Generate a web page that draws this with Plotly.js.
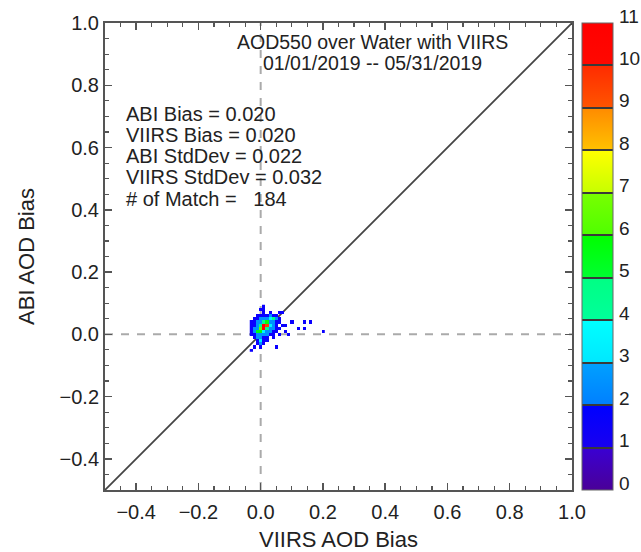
<!DOCTYPE html>
<html>
<head>
<meta charset="utf-8">
<script src="https://cdn.plot.ly/plotly-3.0.1.min.js"></script>
<style>html,body{margin:0;padding:0;background:#fff;}#chart{width:641px;height:552px;}</style>
</head>
<body>
<div id="chart"></div>
<script>
// Binned match counts (bin width 0.01): VIIRS AOD bias (x), ABI AOD bias (y), count
const cellX = [0.01,
  0.01,0.00,
  0.01,0.06,0.07,0.03,
  -0.01,0.00,0.01,0.02,0.03,0.04,0.05,
  -0.02,-0.01,0.00,0.01,0.02,0.03,0.04,0.05,0.06,
  -0.03,-0.02,-0.01,0.00,0.01,0.02,0.03,0.04,0.05,0.06,0.10,0.14,0.16,
  -0.03,-0.02,-0.01,0.00,0.01,0.02,0.03,0.04,0.05,0.07,0.08,
  -0.03,-0.02,-0.01,0.00,0.01,0.02,0.03,0.04,0.05,0.06,0.12,0.14,
  -0.03,-0.02,-0.01,0.00,0.01,0.02,0.03,0.04,0.05,0.08,0.20,
  -0.03,-0.02,-0.01,0.00,0.01,0.02,0.03,0.04,0.06,0.09,
  -0.02,-0.01,0.00,0.01,0.02,0.04,
  -0.01,0.00,0.01,0.02,
  -0.01,0.00,0.01,
  -0.02,0.00,0.05,
  -0.03];
const cellY = [0.09,
  0.08,0.08,
  0.07,0.07,0.07,0.07,
  0.06,0.06,0.06,0.06,0.06,0.06,0.06,
  0.05,0.05,0.05,0.05,0.05,0.05,0.05,0.05,0.05,
  0.04,0.04,0.04,0.04,0.04,0.04,0.04,0.04,0.04,0.04,0.04,0.04,0.04,
  0.03,0.03,0.03,0.03,0.03,0.03,0.03,0.03,0.03,0.03,0.03,
  0.02,0.02,0.02,0.02,0.02,0.02,0.02,0.02,0.02,0.02,0.02,0.02,
  0.01,0.01,0.01,0.01,0.01,0.01,0.01,0.01,0.01,0.01,0.01,
  0.00,0.00,0.00,0.00,0.00,0.00,0.00,0.00,0.00,0.00,
  -0.01,-0.01,-0.01,-0.01,-0.01,-0.01,
  -0.02,-0.02,-0.02,-0.02,
  -0.03,-0.03,-0.03,
  -0.04,-0.04,-0.04,
  -0.05];
const cellN = [1,
  1,1,
  1,1,1,1,
  1,1,1,1,2,1,1,
  1,1,2,2,2,3,4,2,1,
  1,1,2,2,4,5,2,2,1,1,1,1,1,
  1,1,2,4,11,9,3,2,1,1,1,
  1,2,2,6,10,4,2,2,1,1,1,1,
  1,2,5,5,3,2,2,1,1,1,1,
  1,1,2,2,2,2,1,1,1,1,
  1,2,2,1,1,1,
  1,3,1,1,
  1,2,1,
  1,1,1,
  1];

const xTickVals = [-0.4,-0.2,0.0,0.2,0.4,0.6,0.8,1.0];
const yTickVals = [-0.4,-0.2,0.0,0.2,0.4,0.6,0.8,1.0];
const cbTickVals = [0,1,2,3,4,5,6,7,8,9,10,11];
const statLines = ["ABI Bias = 0.020","VIIRS Bias = 0.020","ABI StdDev = 0.022","VIIRS StdDev = 0.032","# of Match =\u00a0\u00a0\u00a0184"];
const titleLines = ["AOD550 over Water with VIIRS","01/01/2019 -- 05/31/2019"];

// band colours (bottom, top) for levels 0..11
const bandColors = [
  ["#4a0098","#3a00d2"],
  ["#1800f0","#0000ff"],
  ["#0080ff","#00a0ff"],
  ["#00e8ff","#00ffff"],
  ["#00ff9a","#00ff84"],
  ["#00ff30","#00ff00"],
  ["#50ff00","#78ff00"],
  ["#c8ff00","#ffff00"],
  ["#ffc000","#ff8c00"],
  ["#ff5400","#ff2c00"],
  ["#ff0800","#ff0000"]
];
const cellColors = ["#4000b8","#0a00ff","#0090ff","#00f4ff","#00ff8c","#00ff10","#66ff00","#e8ff00","#ffa000","#ff4000","#ff0000"];

// build grid for heatmap
const dx = 0.01;
const xmin = Math.min(...cellX), xmax = Math.max(...cellX);
const ymin = Math.min(...cellY), ymax = Math.max(...cellY);
const nx = Math.round((xmax - xmin)/dx) + 1, ny = Math.round((ymax - ymin)/dx) + 1;
const z = [];
for (let j = 0; j < ny; j++) { z.push(new Array(nx).fill(null)); }
for (let k = 0; k < cellX.length; k++) {
  const i = Math.round((cellX[k]-xmin)/dx), j = Math.round((cellY[k]-ymin)/dx);
  z[j][i] = cellN[k];
}
const nb = bandColors.length;
const heatScale = [];
for (let k = 0; k < nb; k++) {
  heatScale.push([k/nb, cellColors[k]]);
  heatScale.push([k === nb-1 ? 1 : (k+1)/nb - 1e-6, cellColors[k]]);
}
const sepScale = [];
const d = 0.0022, dark = "#3a3a3a";
for (let k = 0; k < nb; k++) {
  const lo = k/nb, hi = (k+1)/nb;
  if (k === 0) sepScale.push([0, bandColors[k][0]]);
  else { sepScale.push([lo, dark]); sepScale.push([lo + d, dark]); sepScale.push([lo + d, bandColors[k][0]]); }
  if (k === nb-1) sepScale.push([1, bandColors[k][1]]);
  else { sepScale.push([hi - d, bandColors[k][1]]); sepScale.push([hi - d, dark]); sepScale.push([hi, dark]); }
}

const FONT = "Liberation Sans, Arial, sans-serif";
const TXT = "#222";
const AX = "#555";
const CBX = 1.0214, CBW = 31/467;

const traces = [
  {type:"heatmap", z:z, x0:xmin, dx:dx, y0:ymin, dy:dx, zmin:0, zmax:nb,
   colorscale:heatScale, showscale:false, hoverinfo:"skip"},
  {type:"scatter", mode:"markers", x:cellX, y:cellY, hoverinfo:"skip", showlegend:false,
   marker:{color:cellN, cmin:0, cmax:nb, colorscale:sepScale, opacity:0, size:1, showscale:true,
     colorbar:{x:CBX, xanchor:"left", y:0, yanchor:"bottom", len:1, lenmode:"fraction",
       thickness:31, thicknessmode:"pixels", xpad:0, ypad:0, outlinewidth:1, outlinecolor:"#666",
       tickmode:"array", tickvals:cbTickVals, ticks:"", showticklabels:false}}}
];

const annotations = [];
titleLines.forEach((t, i) => annotations.push({xref:"paper", yref:"paper", x:0.572, y:[0.960,0.915][i],
  xanchor:"center", yanchor:"middle", text:t, showarrow:false, font:{family:FONT, size:19.5, color:TXT}}));
const statY = [0.805,0.760,0.715,0.670,0.623];
statLines.forEach((t, i) => annotations.push({xref:"paper", yref:"paper", x:0.0405, y:statY[i],
  xanchor:"left", yanchor:"middle", text:t, showarrow:false, font:{family:FONT, size:20, color:TXT}}));
// colour bar labels at the level boundaries
cbTickVals.forEach(v => annotations.push({xref:"paper", yref:"paper", x:CBX + CBW + 4/467, y:v/nb, yshift:7,
  xanchor:"left", yanchor:"middle", text:String(v), showarrow:false, font:{family:FONT, size:19, color:TXT}}));

function axis(title, tv, standoff, lstand) {
  return {range:[-0.5,1.0], tickmode:"array", tickvals:tv, ticktext:tv.map(v => v.toFixed(1).replace("-","\u2212")),
    ticks:"inside", ticklen:7, tickwidth:1.5, tickcolor:AX, showline:true, linewidth:2, linecolor:AX,
    mirror:"allticks", showgrid:false, zeroline:false, ticklabelstandoff:lstand,
    minor:{dtick:0.05, tick0:0, ticks:"inside", ticklen:4, tickwidth:1.2, tickcolor:AX, showgrid:false},
    tickfont:{family:FONT, size:20, color:TXT},
    title:{text:title, font:{family:FONT, size:22, color:TXT}, standoff:standoff}};
}

const layout = {
  width:641, height:552, margin:{l:105, r:69, t:23, b:62},
  paper_bgcolor:"#fff", plot_bgcolor:"#fff", showlegend:false,
  xaxis:axis("VIIRS AOD Bias", xTickVals, 10, 3),
  yaxis:axis("ABI AOD Bias", yTickVals, 19, 0),
  shapes:[
    {type:"line", xref:"x", yref:"paper", x0:0, x1:0, y0:0, y1:1, layer:"below", line:{color:"#aaa", width:2, dash:"8px,8px"}},
    {type:"line", xref:"paper", yref:"y", x0:0, x1:1, y0:0, y1:0, layer:"below", line:{color:"#aaa", width:2, dash:"8px,8px"}},
    {type:"line", xref:"x", yref:"y", x0:-0.5, y0:-0.5, x1:1.0, y1:1.0, layer:"below", line:{color:"#444", width:1.8}}
  ],
  annotations:annotations
};

Plotly.newPlot("chart", traces, layout, {displayModeBar:false, staticPlot:true});
</script>
</body>
</html>
